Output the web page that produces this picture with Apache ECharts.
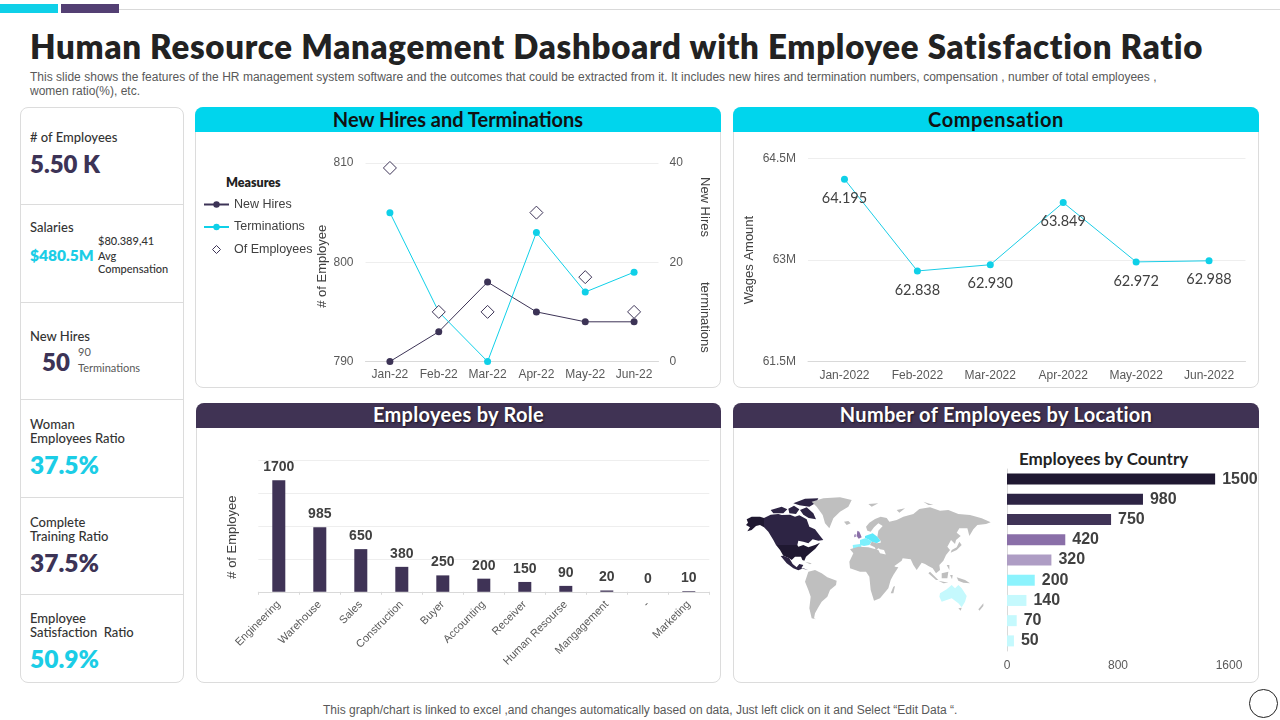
<!DOCTYPE html>
<html>
<head>
<meta charset="utf-8">
<title>Human Resource Management Dashboard</title>
<script src="https://cdn.jsdelivr.net/npm/echarts@6/dist/echarts.min.js"></script>
<style>
html, body { margin: 0; padding: 0; background: #fff; }
#page { position: relative; width: 1280px; height: 720px; overflow: hidden; font-family: "Liberation Sans", Arial, sans-serif; }
#chart { position: absolute; left: 0; top: 0; width: 1280px; height: 720px; }
.box { position: absolute; box-sizing: border-box; }
.panel { border: 1px solid #dcdcdc; border-radius: 8px; background: #fff; }
.head { position: absolute; left: -1px; right: -1px; top: -1px; height: 25px; border-radius: 8px 8px 0 0; text-align: center; font: 700 20px/25px Lato, sans-serif; }
.cyan { background: #00d5ed; color: #111; }
.dark { background: #403354; color: #fff; line-height: 23px; text-shadow: 1px 1px 2px rgba(0,0,0,.6); }
.rule { position: absolute; left: 20px; width: 164px; height: 1px; background: #dcdcdc; }
.t { position: absolute; white-space: nowrap; transform: translateY(-50%); font-family: Lato, sans-serif; color: #333; }
.lab { font-size: 13px; font-weight: 500; }
.small { font-size: 11px; font-weight: 500; }
.big { font-weight: 800; color: #3c3356; }
.blue { color: #1bcde6; }
.sub { position: absolute; white-space: nowrap; font-size: 12px; color: #595959; }
</style>
</head>
<body>
<div id="page">
  <div class="box" style="left:0;top:4px;width:58px;height:9px;background:#0fd0e8"></div>
  <div class="box" style="left:61px;top:4px;width:58px;height:9px;background:#533f73"></div>
  <div class="box" style="left:119px;top:9px;width:1161px;height:1px;background:#d9d9d9"></div>

  <div id="title" class="t" style="left:30px;top:46px;font-size:33px;font-weight:800;color:#222;letter-spacing:0.73px">Human Resource Management Dashboard with Employee Satisfaction Ratio</div>
  <div class="sub" style="left:30px;top:70px;word-spacing:0.1px">This slide shows the features of the HR management system software and the outcomes that could be extracted from it. It includes new hires and termination numbers, compensation , number of total employees ,</div>
  <div class="sub" style="left:30px;top:84px">women ratio(%), etc.</div>

  <div class="box panel" style="left:20px;top:107px;width:164px;height:576px"></div>
  <div class="rule" style="top:204px"></div>
  <div class="rule" style="top:302px"></div>
  <div class="rule" style="top:399px"></div>
  <div class="rule" style="top:497px"></div>
  <div class="rule" style="top:594px"></div>

  <div class="t lab" style="left:30px;top:137px"># of Employees</div>
  <div class="t big" style="left:30px;top:163px;font-size:24px">5.50 K</div>

  <div class="t lab" style="left:30px;top:227px">Salaries</div>
  <div class="t big blue" style="left:30px;top:255px;font-size:15.5px">$480.5M</div>
  <div class="t small" style="left:98px;top:240px">$80.389,41</div>
  <div class="t small" style="left:98px;top:255px">Avg</div>
  <div class="t small" style="left:98px;top:268px">Compensation</div>

  <div class="t lab" style="left:30px;top:336px">New Hires</div>
  <div class="t big" style="left:42px;top:361px;font-size:24px">50</div>
  <div class="t small" style="left:78px;top:351px;font-weight:400;color:#595959">90</div>
  <div class="t small" style="left:78px;top:367px;font-weight:400;color:#595959">Terminations</div>

  <div class="t lab" style="left:30px;top:424px">Woman</div>
  <div class="t lab" style="left:30px;top:438px">Employees Ratio</div>
  <div class="t big blue" style="left:30px;top:464px;font-size:24.5px">37.5%</div>

  <div class="t lab" style="left:30px;top:522px">Complete</div>
  <div class="t lab" style="left:30px;top:536px">Training Ratio</div>
  <div class="t big" style="left:30px;top:562px;font-size:24.5px">37.5%</div>

  <div class="t lab" style="left:30px;top:618px">Employee</div>
  <div class="t lab" style="left:30px;top:632px">Satisfaction&nbsp; Ratio</div>
  <div class="t big blue" style="left:30px;top:658px;font-size:24.5px">50.9%</div>

  <div class="box panel" style="left:195px;top:107px;width:526px;height:281px"><div class="head cyan">New Hires and Terminations</div></div>
  <div class="box panel" style="left:733px;top:107px;width:526px;height:281px"><div class="head cyan" style="letter-spacing:.6px">Compensation</div></div>
  <div class="box panel" style="left:196px;top:403px;width:525px;height:280px"><div class="head dark" style="letter-spacing:.3px">Employees by Role</div></div>
  <div class="box panel" style="left:733px;top:403px;width:526px;height:280px"><div class="head dark" style="letter-spacing:.3px">Number of Employees by Location</div></div>

  <div class="t" style="left:226px;top:182px;font-size:12.5px;font-weight:800;color:#222">Measures</div>
  <div class="t" style="left:1019px;top:458px;font-size:17px;font-weight:700;color:#222">Employees by Country</div>

  <div class="sub" style="left:323px;top:703px">This graph/chart is linked to excel ,and changes automatically based on data, Just left click on it and Select “Edit Data “.</div>
  <div class="box" style="left:1249px;top:689px;width:29px;height:29px;border:1px solid #222;border-radius:50%"></div>

  <div id="chart"></div>
</div>

<script>
// new hires / terminations
var months = ['Jan-22', 'Feb-22', 'Mar-22', 'Apr-22', 'May-22', 'Jun-22'];
var newHires = [0, 6, 16, 10, 8, 8];
var terminations = [30, 10, 0, 26, 14, 18];
var ofEmployees = [809.5, 795, 795, 805, 798.5, 795];

// compensation, in millions
var compMonths = ['Jan-2022', 'Feb-2022', 'Mar-2022', 'Apr-2022', 'May-2022', 'Jun-2022'];
var wages = [64.195, 62.838, 62.930, 63.849, 62.972, 62.988];

// employees by role
var roles = ['Engineering', 'Warehouse', 'Sales', 'Construction', 'Buyer', 'Accounting', 'Receiver', 'Human Resourse', 'Mangagement', '-', 'Marketing'];
var roleCounts = [1700, 985, 650, 380, 250, 200, 150, 90, 20, 0, 10];

// employees by country
var countries = ['United States', 'Canada', 'Mexico', 'United Kingdom', 'Ireland', 'Germany', 'Australia', 'France', 'Spain'];
var countryCounts = [1500, 980, 750, 420, 320, 200, 140, 70, 50];
var countryColors = ['#1f1831', '#2d2444', '#3f3356', '#8a6fa8', '#ae9dc4', '#8cf3fd', '#c5f9fd', '#c5f9fd', '#c5f9fd'];
var mapColors = ['#1f1831', '#2d2444', '#2d2444', '#8a6fa8', '#ae9dc4', '#5de9fb', '#c5f9fd', '#7cf0fc', '#8cf3fd'];

// hand traced outlines for the world map, one list of rings per region, rough map units
var worldShapes = {
    'United States': [
        [[108,165],[172,165],[175,170],[190,165],[205,172],[225,165],[240,158],[226,176],[210,190],[198,200],[193,212],[187,210],[183,200],[165,200],[155,210],[148,205],[130,197],[120,180]],
        [[20,88],[35,80],[60,80],[72,84],[72,112],[60,105],[48,108],[35,120],[22,124],[30,112],[18,105],[24,98]]
    ],
    'Canada': [
        [[72,84],[92,74],[115,72],[125,75],[150,74],[165,80],[178,76],[200,88],[208,110],[225,118],[238,135],[250,150],[235,152],[218,148],[205,160],[190,155],[175,152],[172,165],[108,165],[100,150],[85,125],[72,112]],
        [[92,60],[125,50],[142,58],[130,70],[100,70]],
        [[145,56],[162,47],[178,58],[168,72],[148,70]],
        [[160,40],[195,26],[235,25],[228,38],[208,50],[178,46]],
        [[180,60],[200,52],[220,70],[228,88],[206,84],[190,74]]
    ],
    'Mexico': [
        [[122,198],[130,197],[148,205],[158,222],[170,232],[178,222],[190,225],[184,235],[195,238],[205,241],[190,235],[175,241],[160,235],[140,220]]
    ],
    'United Kingdom': [
        [[352,122],[358,125],[365,142],[356,146],[350,138]]
    ],
    'Ireland': [
        [[342,134],[348,132],[349,140],[342,142]]
    ],
    'Germany': [
        [[375,138],[398,130],[412,140],[422,152],[410,160],[395,155],[385,148],[375,145]]
    ],
    'France': [
        [[360,150],[375,145],[385,148],[395,155],[388,165],[372,168],[360,165]]
    ],
    'Spain': [
        [[338,165],[360,162],[365,168],[357,180],[340,180]]
    ],
    'Australia': [
        [[600,310],[620,298],[635,285],[645,295],[655,285],[665,295],[680,318],[675,335],[665,352],[655,340],[635,325],[605,335],[598,320]]
    ],
    'Other': [
        [[215,35],[250,25],[300,22],[335,30],[325,50],[300,65],[280,85],[268,115],[255,100],[248,75],[230,50]],
        [[312,95],[325,93],[332,100],[320,105]],
        [[205,245],[225,240],[245,250],[262,262],[290,272],[288,285],[270,300],[262,320],[245,335],[235,352],[225,370],[222,385],[228,388],[215,385],[208,355],[212,320],[205,300],[195,275]],
        [[195,215],[215,220],[210,223]],
        [[378,110],[388,98],[405,87],[422,80],[440,84],[448,95],[470,90],[490,80],[520,72],[538,57],[570,52],[600,62],[625,60],[655,72],[690,75],[725,85],[752,97],[738,102],[712,105],[700,118],[688,138],[682,115],[658,115],[650,128],[662,138],[648,150],[645,162],[633,150],[622,170],[630,180],[618,195],[610,212],[598,225],[600,240],[588,250],[578,235],[565,228],[555,222],[545,218],[530,240],[520,225],[512,208],[488,205],[485,212],[458,232],[445,212],[432,180],[420,178],[412,172],[410,165],[422,158],[422,152],[412,140],[415,122],[428,108],[415,100],[402,112],[392,125],[382,122]],
        [[395,155],[410,160],[422,158],[415,175],[408,180],[404,172],[390,165]],
        [[330,178],[355,170],[385,172],[415,180],[420,190],[445,195],[450,210],[465,230],[475,232],[460,255],[452,270],[445,295],[420,325],[402,332],[392,300],[388,260],[378,245],[360,245],[330,235],[328,215],[340,190]],
        [[460,290],[465,288],[460,310],[452,310]],
        [[655,355],[665,353],[662,362]],
        [[715,358],[730,340],[730,348],[718,362]],
        [[570,245],[595,270],[588,270],[565,250]],
        [[605,250],[625,245],[622,265],[605,265]],
        [[595,272],[625,278],[610,280]],
        [[630,255],[638,255],[636,268]],
        [[650,262],[675,270],[690,280],[670,278],[655,272]],
        [[620,225],[628,225],[628,240]],
        [[658,155],[665,165],[650,180],[632,188],[635,180],[650,172]],
        [[470,60],[495,55],[478,68]],
        [[385,42],[415,40],[395,50]],
        [[550,35],[580,45],[565,45]]
    ]
};

// inner water, kept apart so the region rings stay readable
var worldHoles = {
    'Canada': [[[168,110],[188,104],[198,116],[196,128],[182,132],[170,122]]],
    'Other': [[[425,152],[440,148],[457,155],[445,160],[428,160]], [[462,155],[470,152],[475,178],[465,178]]]
};

function buildWorld() {
    var features = [];
    Object.keys(worldShapes).forEach(function(name) {
        var holes = worldHoles[name] || [];
        var polys = worldShapes[name].map(function(ring, i) {
            var rings = [ring];
            // holes sit inside the first big ring of the region
            if (name == 'Canada' && i == 0) rings = rings.concat(holes);
            if (name == 'Other' && i == 4) rings = rings.concat(holes);
            return rings.map(function(r) {
                return r.concat([r[0]]).map(function(p) { return [p[0], -p[1]]; });
            });
        });
        features.push({
            type: 'Feature',
            properties: { name: name },
            geometry: { type: 'MultiPolygon', coordinates: polys }
        });
    });
    return { type: 'FeatureCollection', features: features };
}

echarts.registerMap('world', buildWorld());

var axisColor = '#595959';
var gridLine = { show: true, lineStyle: { color: '#eeeeee', width: 1 } };
var baseLine = { show: true, lineStyle: { color: '#d9d9d9', width: 1 } };
var arial = 'Liberation Sans';

var myChart = echarts.init(document.getElementById('chart'), null, { renderer: 'canvas' });

var option = {
    animation: false,
    backgroundColor: 'transparent',
    textStyle: { fontFamily: arial },
    legend: {
        left: 198,
        top: 193,
        orient: 'vertical',
        itemWidth: 25,
        itemHeight: 8,
        itemGap: 9.5,
        textStyle: { fontSize: 12.5, color: '#404040', fontFamily: arial },
        data: [
            'New Hires',
            'Terminations',
            { name: 'Of Employees', icon: 'path://M5,0L10,5L5,10L0,5Z', itemStyle: { color: '#ffffff', borderColor: '#3c3356', borderWidth: 1 } }
        ]
    },
    grid: [
        { left: 365.5, top: 163, width: 293, height: 198.5 },
        { left: 808, top: 158.5, width: 437.5, height: 203 },
        { left: 258.3, top: 460.5, width: 451, height: 131.3 },
        { left: 1007, top: 469, width: 222, height: 182 }
    ],
    xAxis: [
        {
            gridIndex: 0, type: 'category', data: months,
            axisLine: baseLine, axisTick: { show: false },
            axisLabel: { color: axisColor, fontSize: 12, margin: 7, interval: 0 }
        },
        {
            gridIndex: 1, type: 'category', data: compMonths,
            axisLine: baseLine, axisTick: { show: false },
            axisLabel: { color: axisColor, fontSize: 12, margin: 8, interval: 0 }
        },
        {
            gridIndex: 2, type: 'category', data: roles,
            axisLine: baseLine,
            axisTick: { show: true, length: 3, lineStyle: { color: '#d9d9d9' } },
            axisLabel: { color: axisColor, fontSize: 11, rotate: 45, margin: 11, interval: 0 }
        },
        {
            gridIndex: 3, type: 'value', min: 0, max: 1600, interval: 800,
            axisLine: { show: false }, axisTick: { show: false }, splitLine: { show: false },
            axisLabel: {
                color: axisColor, fontSize: 12, margin: 9,
                formatter: function(v) { return String(v); }
            }
        }
    ],
    yAxis: [
        {
            gridIndex: 0, type: 'value', min: 790, max: 810, interval: 10,
            name: '# of Employee', nameLocation: 'middle', nameGap: 37,
            nameTextStyle: { color: '#404040', fontSize: 13, padding: [0, 8, 0, 0] },
            axisLine: { show: false }, axisTick: { show: false }, splitLine: gridLine,
            axisLabel: { color: axisColor, fontSize: 12, margin: 12 }
        },
        {
            gridIndex: 0, type: 'value', min: 0, max: 40, interval: 20, position: 'right',
            axisLine: { show: false }, axisTick: { show: false }, splitLine: { show: false },
            axisLabel: { color: axisColor, fontSize: 12, margin: 11 }
        },
        {
            gridIndex: 1, type: 'value', min: 61.5, max: 64.5, interval: 1.5,
            name: 'Wages Amount', nameLocation: 'middle', nameGap: 52,
            nameTextStyle: { color: '#404040', fontSize: 13 },
            axisLine: { show: false }, axisTick: { show: false }, splitLine: gridLine,
            axisLabel: {
                color: axisColor, fontSize: 12, margin: 12,
                formatter: function(v) { return v + 'M'; }
            }
        },
        {
            gridIndex: 2, type: 'value', min: 0, max: 2000, interval: 500,
            name: '# of Employee', nameLocation: 'middle', nameGap: 19,
            nameTextStyle: { color: '#404040', fontSize: 13, padding: [0, 22, 0, 0] },
            axisLine: { show: false }, axisTick: { show: false }, splitLine: gridLine,
            axisLabel: { show: false }
        },
        {
            gridIndex: 3, type: 'category', inverse: true, data: countries,
            axisLine: baseLine, axisTick: { show: false }, axisLabel: { show: false }
        }
    ],
    graphic: [
        { type: 'text', x: 711, y: 177, rotation: -Math.PI / 2, style: { text: 'New Hires', fill: '#404040', fontSize: 13, fontFamily: arial } },
        { type: 'text', x: 711, y: 282, rotation: -Math.PI / 2, style: { text: 'terminations', fill: '#404040', fontSize: 13, fontFamily: arial } }
    ],
    series: [
        {
            name: 'New Hires', type: 'line', xAxisIndex: 0, yAxisIndex: 1, data: newHires,
            symbol: 'circle', symbolSize: 7,
            lineStyle: { color: '#3c3356', width: 1 }, itemStyle: { color: '#3c3356' }
        },
        {
            name: 'Terminations', type: 'line', xAxisIndex: 0, yAxisIndex: 1, data: terminations,
            symbol: 'circle', symbolSize: 7,
            lineStyle: { color: '#0fd0e8', width: 1 }, itemStyle: { color: '#0fd0e8' }
        },
        {
            name: 'Of Employees', type: 'line', xAxisIndex: 0, yAxisIndex: 0, data: ofEmployees,
            symbol: 'diamond', symbolSize: 13,
            lineStyle: { width: 0, opacity: 0 },
            itemStyle: { color: '#ffffff', borderColor: '#3c3356', borderWidth: 1 },
            z: 5
        },
        {
            name: 'Wages', type: 'line', xAxisIndex: 1, yAxisIndex: 2, data: wages,
            symbol: 'circle', symbolSize: 7,
            lineStyle: { color: '#1bcde6', width: 1 }, itemStyle: { color: '#0fd0e8' },
            label: {
                show: true, position: 'bottom', distance: 8, color: '#404040', fontSize: 14.5,
                fontFamily: 'Lato',
                formatter: function(p) { return p.value.toFixed(3); }
            }
        },
        {
            name: 'Employees', type: 'bar', xAxisIndex: 2, yAxisIndex: 3, data: roleCounts,
            barWidth: 13, itemStyle: { color: '#3f3356' },
            label: { show: true, position: 'top', distance: 6, color: '#404040', fontSize: 14, fontWeight: 'bold' }
        },
        {
            name: 'Country', type: 'bar', xAxisIndex: 3, yAxisIndex: 4,
            data: countryCounts.map(function(v, i) {
                return { value: v, itemStyle: { color: countryColors[i] } };
            }),
            barWidth: 11,
            label: { show: true, position: 'right', distance: 7, color: '#404040', fontSize: 16, fontWeight: 'bold' }
        },
        {
            name: 'Location', type: 'map', map: 'world', roam: false, silent: true, aspectScale: 1,
            showLegendSymbol: false,
            left: 746, top: 497.3, width: 244.7, height: 122,
            label: { show: false },
            itemStyle: { areaColor: '#bfbfbf', borderWidth: 0 },
            data: countries.map(function(c, i) {
                return { name: c, value: countryCounts[i], itemStyle: { areaColor: mapColors[i] } };
            })
        }
    ]
};

myChart.setOption(option);
</script>
</body>
</html>
